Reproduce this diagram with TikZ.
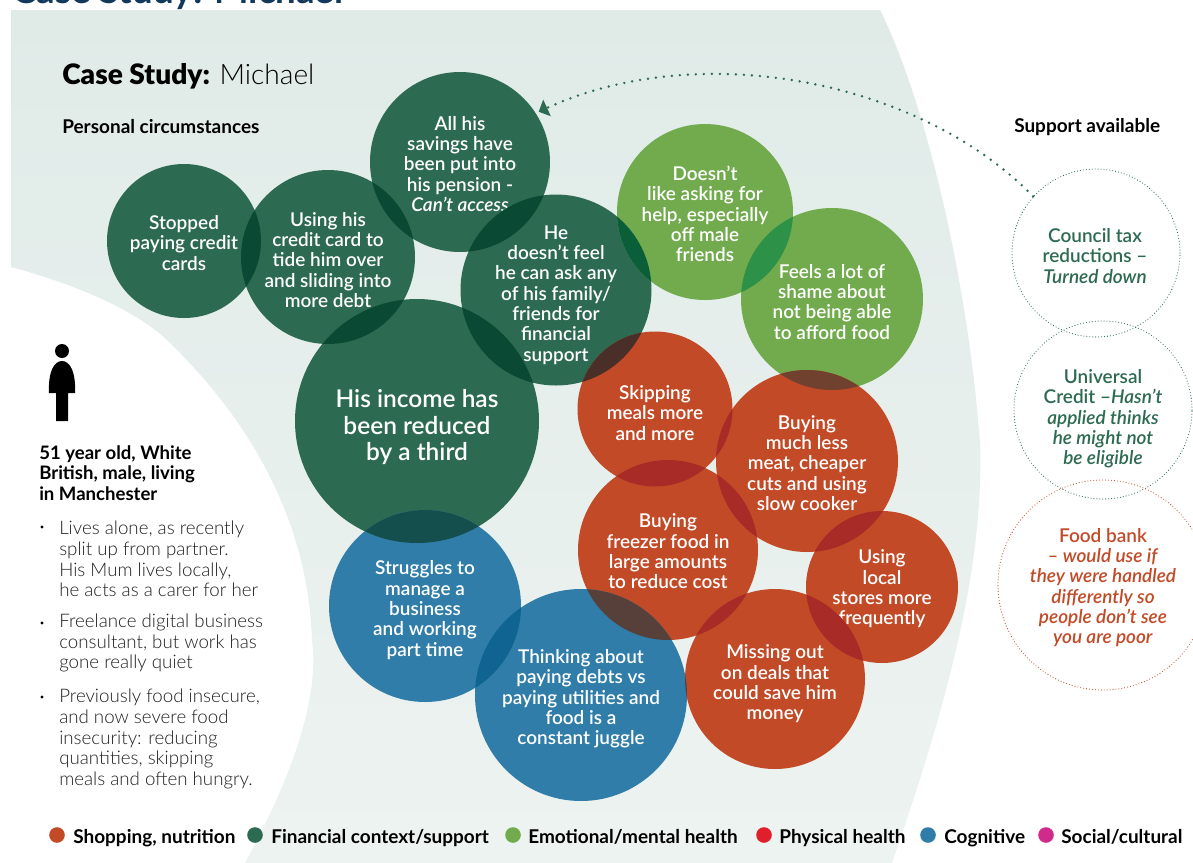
\documentclass[tikz,border=0pt]{standalone}
\usepackage{fontspec}
\setmainfont{Lato}
\newfontfamily\medfont{Lato Semibold}[ItalicFont={Lato Semibold Italic},Ligatures=TeX]
\newfontfamily\lightfont{Lato Light}
\newfontfamily\blackfont{Lato Black}
\usetikzlibrary{arrows.meta}
\definecolor{panelTop}{HTML}{E0EBE8}
\definecolor{panelBot}{HTML}{EDF3F1}
\definecolor{finGreen}{HTML}{2D6A52}
\definecolor{finLens}{HTML}{0A4A35}
\definecolor{emoGreen}{HTML}{72AB4E}
\definecolor{emoLens}{HTML}{2E9148}
\definecolor{finEmoLens}{HTML}{0A5E38}
\definecolor{shopRed}{HTML}{C24A27}
\definecolor{shopLens}{HTML}{A92B27}
\definecolor{finShopLens}{HTML}{4A2E28}
\definecolor{emoShopLens}{HTML}{70412F}
\definecolor{cogBlue}{HTML}{2F7DA8}
\definecolor{cogLens}{HTML}{0F6491}
\definecolor{finCogLens}{HTML}{154F4D}
\definecolor{cogShopLens}{HTML}{57403A}
\definecolor{titleNavy}{HTML}{12395B}
\definecolor{bodyGrey}{HTML}{202020}
\tikzset{
  bubbletext/.style={align=center, text=white, inner sep=0pt, font=\medfont\fontsize{13.5}{14.45}\selectfont},
  supportring/.style={circle, inner sep=0pt, line width=0.8pt, line cap=round, dash pattern=on 0pt off 2.1pt},
  supporttext/.style={align=center, inner sep=0pt, font=\medfont\fontsize{13.5}{14.45}\selectfont},
  headtext/.style={anchor=west, inner sep=0pt, font=\bfseries\fontsize{13.5}{14.7}\selectfont},
  bodytext/.style={anchor=west, align=left, inner sep=0pt, text=bodyGrey, font=\lightfont\fontsize{13.3}{14.7}\selectfont},
  bulletdot/.style={circle, fill=black, inner sep=0pt, minimum size=2.4pt},
  legdot/.style={circle, inner sep=0pt, minimum size=0.39cm},
  legtext/.style={anchor=base west, inner sep=0pt, font=\bfseries\fontsize{13.5}{14.7}\selectfont},
}
\def\lens[#1](#2:#3)(#4:#5){\begin{scope}\clip (#2) circle (#3); \fill[#1] (#4) circle (#5); \end{scope}}

\begin{document}
\begin{tikzpicture}[x=0.025cm, y=-0.025cm]
	%%%%% PAGE AND PANEL %%%%%
	\clip (0, 0) rectangle (1193, 863);
	\path[use as bounding box] (0, 0) rectangle (1193, 863);
	\fill[white] (0, 0) rectangle (1193, 863);
	\path[top color=panelTop, bottom color=panelBot] (11, 10) -- (880, 10)
		.. controls (925, 100) and (968, 280) .. (980, 443)
		.. controls (984, 560) and (952, 690) .. (892, 863)
		-- (245, 863)
		.. controls (290, 780) and (320, 700) .. (312, 640)
		.. controls (308, 520) and (250, 420) .. (167, 340)
		.. controls (130, 305) and (60, 280) .. (11, 267) -- cycle;
	\node[anchor=base west, inner sep=0pt, text=titleNavy, font=\bfseries\fontsize{26}{30}\selectfont] (pagetitle) at (12, 3) {Case Study: Michael};

	%%%%% HEADINGS %%%%%
	\node[anchor=west, inner sep=0pt, font=\fontsize{20}{24}\selectfont] (casetitle) at (62, 76) {{\blackfont Case Study:} {\lightfont Michael}};
	\node[headtext] (circumstances) at (62, 127) {Personal circumstances};
	\node[headtext] (supporthead) at (1014, 127) {Support available};

	%%%%% PERSON %%%%%
	\fill[black] (62, 351) circle (7);
	\fill[black] (49, 393) .. controls (48, 372) and (54, 361) .. (62, 361) .. controls (70, 361) and (76, 372) .. (75, 393) -- (68, 393) -- (68, 421) -- (56, 421) -- (56, 393) -- cycle;

	\node[headtext, align=left, font=\bfseries\fontsize{13.2}{14.7}\selectfont] (profile) at (39, 473) {51 year old, White\\British, male, living\\in Manchester};
	\node[bulletdot] (bulletone) at (42, 527) {};
	\node[bodytext] (livesalone) at (59, 559) {Lives alone, as recently\\split up from partner.\\His Mum lives locally,\\he acts as a carer for her};
	\node[bulletdot] (bullettwo) at (42, 623) {};
	\node[bodytext] (freelance) at (59, 643) {Freelance digital business\\consultant, but work has\\gone really quiet};
	\node[bulletdot] (bulletthree) at (42, 697) {};
	\node[bodytext] (insecure) at (59, 739) {Previously food insecure,\\and now severe food\\insecurity: reducing\\quantities, skipping\\meals and often hungry.};

	%%%%% CIRCLES %%%%%
	\coordinate (cStopped) at (184, 241);
	\coordinate (cCard) at (328, 257);
	\coordinate (cSavings) at (460, 162);
	\coordinate (cFamily) at (556, 290);
	\coordinate (cIncome) at (417, 421);
	\coordinate (cAsking) at (705, 212);
	\coordinate (cShame) at (832, 299);
	\coordinate (cSkipping) at (655, 409);
	\coordinate (cMeat) at (807, 461);
	\coordinate (cFreezer) at (668, 550);
	\coordinate (cLocal) at (882, 587);
	\coordinate (cDeals) at (775, 679);
	\coordinate (cManage) at (425, 606);
	\coordinate (cDebts) at (581, 695);

	\fill[finGreen] (cStopped) circle (77);
	\fill[finGreen] (cCard) circle (87);
	\fill[finGreen] (cSavings) circle (90);
	\node[bubbletext, circle, minimum size=4.5cm, yshift=-1.4pt] (savings) at (cSavings) {All his\\savings have\\been put into\\his pension -\\\textit{Can't access}};
	\fill[finGreen] (cFamily) circle (95.5);
	\fill[finGreen] (cIncome) circle (122);
	\fill[emoGreen] (cAsking) circle (88);
	\fill[emoGreen] (cShame) circle (91);
	\fill[shopRed] (cSkipping) circle (77.5);
	\fill[shopRed] (cMeat) circle (91);
	\fill[shopRed] (cFreezer) circle (90);
	\fill[shopRed] (cLocal) circle (76);
	\node[bubbletext, yshift=-1.4pt] (local) at (cLocal) {Using\\local\\stores more\\frequently};
	\fill[shopRed] (cDeals) circle (90);
	\fill[cogBlue] (cManage) circle (96);
	\fill[cogBlue] (cDebts) circle (106);

	%%%%% OVERLAPS %%%%%
	\lens[finLens](cStopped:77)(cCard:87);
	\lens[finLens](cCard:87)(cSavings:90);
	\lens[finLens](cSavings:90)(cFamily:95.5);
	\lens[finLens](cCard:87)(cIncome:122);
	\lens[finLens](cFamily:95.5)(cIncome:122);
	\lens[finEmoLens](cFamily:95.5)(cAsking:88);
	\lens[emoLens](cAsking:88)(cShame:91);
	\lens[finShopLens](cFamily:95.5)(cSkipping:77.5);
	\lens[emoShopLens](cShame:91)(cMeat:91);
	\lens[shopLens](cSkipping:77.5)(cMeat:91);
	\lens[shopLens](cSkipping:77.5)(cFreezer:90);
	\lens[shopLens](cMeat:91)(cFreezer:90);
	\lens[shopLens](cMeat:91)(cLocal:76);
	\lens[shopLens](cLocal:76)(cDeals:90);
	\lens[shopLens](cFreezer:90)(cDeals:90);
	\lens[cogShopLens](cFreezer:90)(cDebts:106);
	\lens[cogLens](cManage:96)(cDebts:106);
	\lens[finCogLens](cManage:96)(cIncome:122);
	\lens[cogShopLens](cDeals:90)(cDebts:106);

	%%%%% CIRCLE TEXT %%%%%
	\node[bubbletext, yshift=-1.4pt] (stopped) at (cStopped) {Stopped\\paying credit\\cards};
	\node[bubbletext, yshift=-2pt] (card) at (cCard) {Using his\\credit card to\\tide him over\\and sliding into\\more debt};
	\node[bubbletext, yshift=-3.5pt] (family) at (cFamily) {He\\doesn't feel\\he can ask any\\of his family/\\friends for\\financial\\support};
	\node[bubbletext, font=\medfont\fontsize{17.4}{18.8}\selectfont, yshift=-4.4pt] (income) at (cIncome) {His income has\\been reduced\\by a third};
	\node[bubbletext, yshift=-1.4pt] (asking) at (cAsking) {Doesn't\\like asking for\\help, especially\\off male\\friends};
	\node[bubbletext, yshift=-2pt] (shame) at (cShame) {Feels a lot of\\shame about\\not being able\\to afford food};
	\node[bubbletext, yshift=-2.8pt] (skipping) at (cSkipping) {Skipping\\meals more\\and more};
	\node[bubbletext, yshift=-1.4pt] (meat) at (cMeat) {Buying\\much less\\meat, cheaper\\cuts and using\\slow cooker};
	\node[bubbletext, yshift=-1.1pt] (freezer) at (cFreezer) {Buying\\freezer food in\\large amounts\\to reduce cost};
	\node[bubbletext, yshift=-3.5pt] (deals) at (cDeals) {Missing out\\on deals that\\could save him\\money};
	\node[bubbletext, yshift=-2.8pt] (manage) at (cManage) {Struggles to\\manage a\\business\\and working\\part time};
	\node[bubbletext, yshift=-2.8pt] (debts) at (cDebts) {Thinking about\\paying debts vs\\paying utilities and\\food is a\\constant juggle};

	%%%%% SUPPORT %%%%%
	\node[supportring, draw=finGreen, minimum size=4.2cm] (council) at (1096, 253) {};
	\node[supporttext, text=finGreen] (counciltext) at (1095, 256) {Council tax\\reductions --\\\textit{Turned down}};
	\node[supportring, draw=finGreen, minimum size=4.45cm] (universal) at (1103, 410) {};
	\node[supporttext, text=finGreen] (universaltext) at (1103, 419) {Universal\\Credit --\textit{Hasn't}\\\textit{applied thinks}\\\textit{he might not}\\\textit{be eligible}};
	\node[supportring, draw=shopRed, minimum size=5.25cm] (foodbank) at (1103, 585) {};
	\node[supporttext, text=shopRed] (foodbanktext) at (1103, 587.5) {Food bank\\\textit{-- would use if}\\\textit{they were handled}\\\textit{differently so}\\\textit{people don't see}\\\textit{you are poor}};

	\draw[finGreen, line width=1.9pt, line cap=round, dash pattern=on 0pt off 5.7pt, -{Triangle[length=6.5pt, width=13pt, line width=0pt, fill=finGreen]}, shorten >=3pt] (council.138) .. controls (920, 80) and (700, 38) .. (savings.34);

	%%%%% LEGEND %%%%%
	\node[legdot, fill=shopRed] (shopdot) at (57, 835) {};
	\node[legtext] (shoplab) at (73, 843) {Shopping, nutrition};
	\node[legdot, fill=finGreen] (findot) at (255, 835) {};
	\node[legtext] (finlab) at (271, 843) {Financial context/support};
	\node[legdot, fill=emoGreen] (emodot) at (513, 835) {};
	\node[legtext] (emolab) at (528, 843) {Emotional/mental health};
	\node[legdot, fill={rgb,255:red,223;green,31;blue,44}] (physdot) at (764, 835) {};
	\node[legtext] (physlab) at (779, 843) {Physical health};
	\node[legdot, fill=cogBlue] (cogdot) at (928, 835) {};
	\node[legtext] (coglab) at (944, 843) {Cognitive};
	\node[legdot, fill={rgb,255:red,208;green,43;blue,140}] (socdot) at (1046, 835) {};
	\node[legtext] (soclab) at (1061, 843) {Social/cultural};
\end{tikzpicture}
\end{document}
